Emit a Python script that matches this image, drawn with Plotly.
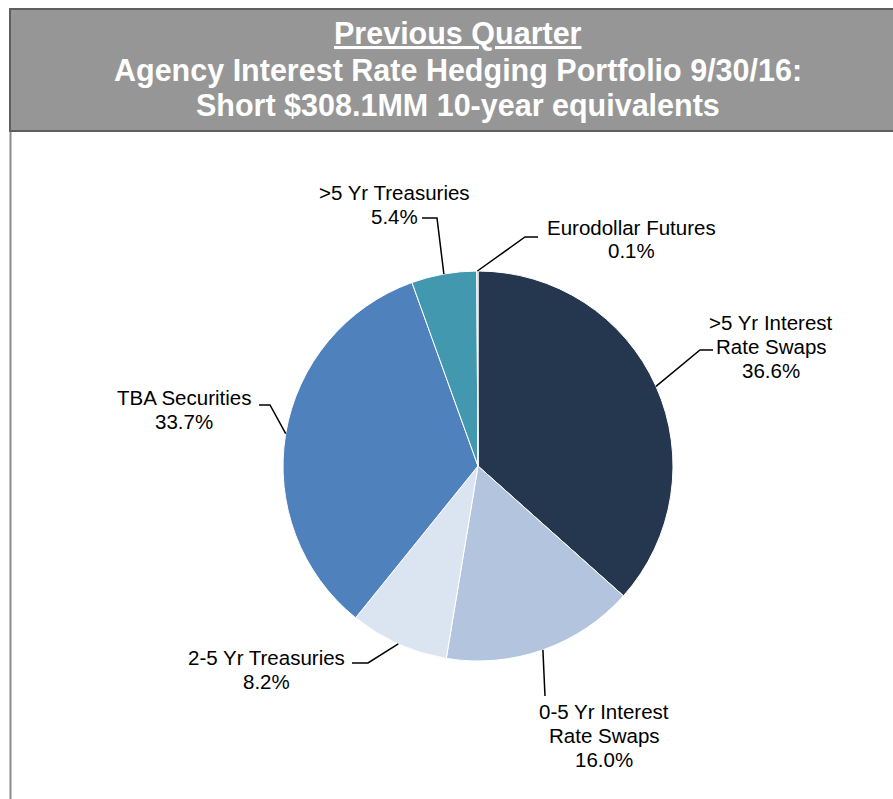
import math
import plotly.graph_objects as go

# Portfolio composition (share of 10-year equivalents, %)
categories = [
    ">5 Yr Interest Rate Swaps",
    "0-5 Yr Interest Rate Swaps",
    "2-5 Yr Treasuries",
    "TBA Securities",
    ">5 Yr Treasuries",
    "Eurodollar Futures",
]
shares = [36.6, 16.0, 8.2, 33.7, 5.4, 0.1]
label_lines = [
    [">5 Yr Interest", "Rate Swaps"],
    ["0-5 Yr Interest", "Rate Swaps"],
    ["2-5 Yr Treasuries"],
    ["TBA Securities"],
    [">5 Yr Treasuries"],
    ["Eurodollar Futures"],
]
colors = ["#25364F", "#B2C4DE", "#DBE4F1", "#4F81BD", "#4198AF", "#8EB4E3"]

W, H = 893, 799
FONT = "Liberation Sans, Arial, sans-serif"

# Pie placement in pixels
CX, CY, R = 478, 466, 195


def px(x):
    return x / W


def py(y):
    return 1 - y / H


# Label placement: text centre (x, first-line y), elbow point, line end point
label_layout = [
    dict(tx=771, ty=322, elbow=(700, 350), end=(713, 350)),
    dict(tx=604, ty=711, elbow=(545, 696), end=(545, 696)),
    dict(tx=266, ty=657, elbow=(368, 663), end=(352, 663)),
    dict(tx=184, ty=397, elbow=(270, 405), end=(259, 405)),
    dict(tx=394, ty=192, elbow=(437, 218), end=(422, 218)),
    dict(tx=631, ty=227, elbow=(525, 237), end=(538, 237)),
]

fig = go.Figure()
fig.add_trace(go.Pie(
    labels=categories,
    values=shares,
    sort=False,
    direction="clockwise",
    rotation=0,
    marker=dict(colors=colors, line=dict(color="white", width=1)),
    textinfo="none",
    hoverinfo="label+percent",
    showlegend=False,
    domain=dict(x=[px(CX - R), px(CX + R)], y=[py(CY + R), py(CY - R)]),
))

shapes = []
annotations = []

# Header box
shapes.append(dict(type="rect", xref="paper", yref="paper",
                   x0=px(10), x1=px(900), y0=py(131), y1=py(9),
                   fillcolor="#969696", line=dict(color="#5F5F5F", width=2),
                   layer="below"))
# Body frame left edge
shapes.append(dict(type="line", xref="paper", yref="paper",
                   x0=px(10.5), x1=px(10.5), y0=py(132), y1=py(805),
                   line=dict(color="#8C8C8C", width=2)))

title_lines = [
    ("<u>Previous Quarter</u>", 34),
    ("Agency Interest Rate Hedging Portfolio 9/30/16:", 70),
    ("Short $308.1MM 10-year equivalents", 105),
]
for txt, y in title_lines:
    annotations.append(dict(text=f"<b>{txt}</b>", xref="paper", yref="paper",
                            x=px(458), y=py(y), xanchor="center", yanchor="middle",
                            showarrow=False,
                            font=dict(family=FONT, size=30.5, color="white")))

# Data labels with leader lines
total = sum(shares)
cum = 0.0
LINE_H = 24
for name_lines, val, lay in zip(label_lines, shares, label_layout):
    mid = (cum + val / 2) / total * 360.0
    cum += val
    sx = CX + R * math.sin(math.radians(mid))
    sy = CY - R * math.cos(math.radians(mid))
    ex, ey = lay["elbow"]
    fx, fy = lay["end"]
    path = f"M {px(sx)},{py(sy)} L {px(ex)},{py(ey)} L {px(fx)},{py(fy)}"
    shapes.append(dict(type="path", xref="paper", yref="paper", path=path,
                       line=dict(color="black", width=1.5)))
    lines = name_lines + [f"{val:.1f}%"]
    for i, ln in enumerate(lines):
        annotations.append(dict(text=ln, xref="paper", yref="paper",
                                x=px(lay["tx"]), y=py(lay["ty"] + i * LINE_H),
                                xanchor="center", yanchor="middle", showarrow=False,
                                font=dict(family=FONT, size=20.5, color="black")))

fig.update_layout(
    width=W, height=H,
    margin=dict(l=0, r=0, t=0, b=0),
    paper_bgcolor="white",
    plot_bgcolor="white",
    shapes=shapes,
    annotations=annotations,
)

fig.write_html("out.html")
